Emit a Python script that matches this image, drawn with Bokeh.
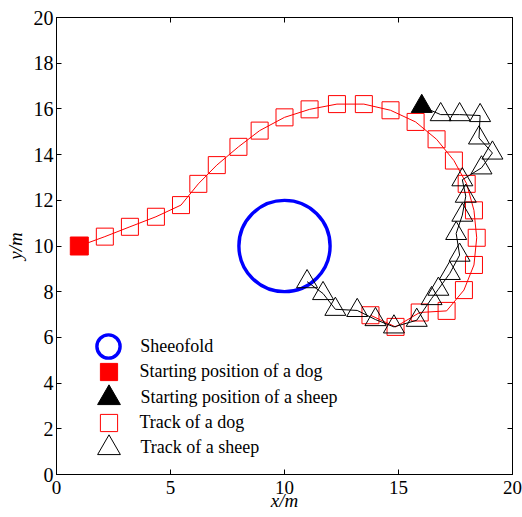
from bokeh.plotting import figure
from bokeh.models import Range1d, LinearAxis, Legend, LegendItem, FixedTicker
from bokeh.embed import file_html
from bokeh.resources import INLINE

# ---------------- data ----------------
dog_start_x = [1.0]
dog_start_y = [10.0]
dog_x = [2.12, 3.22, 4.36, 5.46, 6.22, 7.03, 7.98, 8.91, 10.0, 11.1, 12.3, 13.48, 14.65,
         15.75, 16.67, 17.43, 17.99, 18.31, 18.43, 18.31, 17.87, 17.11, 15.93, 14.87, 13.77]
dog_y = [10.41, 10.84, 11.28, 11.79, 12.72, 13.54, 14.34, 15.05, 15.63, 15.98, 16.21, 16.21, 15.94,
         15.43, 14.67, 13.74, 12.72, 11.56, 10.36, 9.17, 8.07, 7.16, 7.09, 6.46, 6.97]

sheep_start_x = [16.02]
sheep_start_y = [16.11]
sheep_x = [16.85, 17.68, 18.58, 18.53, 19.12, 18.64, 17.80, 17.95, 17.80, 17.53, 17.68, 17.25,
           16.75, 16.45, 15.80, 14.80, 13.99, 13.19, 12.23, 11.69, 10.99]
sheep_y = [15.75, 15.75, 15.71, 14.73, 14.07, 13.42, 12.90, 12.18, 11.35, 10.55, 9.60, 8.80,
           8.11, 7.70, 6.75, 6.46, 6.78, 7.18, 7.23, 7.92, 8.44]

fold_x = [10.0]
fold_y = [10.0]
fold_radius = [2.0]

x_ticks = [0, 5, 10, 15, 20]
y_ticks = [0, 2, 4, 6, 8, 10, 12, 14, 16, 18, 20]

legend_labels = ["Sheeofold", "Starting position of a dog", "Starting position of a sheep",
                 "Track of a dog", "Track of a sheep"]

FONT = "Liberation Serif"

# ---------------- figure ----------------
p = figure(width=522, height=517, x_range=Range1d(0, 20), y_range=Range1d(0, 20),
           output_backend="svg", toolbar_location=None,
           min_border_left=56, min_border_right=10, min_border_top=17, min_border_bottom=43)
p.grid.visible = False
p.outline_line_color = "black"
p.outline_line_width = 1
p.outline_line_alpha = 1
p.background_fill_color = "white"
p.border_fill_color = "white"

for ax in (p.xaxis[0], p.yaxis[0]):
    ax.major_tick_in = 5
    ax.major_tick_out = 0
    ax.minor_tick_line_color = None
    ax.axis_line_color = "black"
    ax.major_tick_line_color = "black"
    ax.major_label_text_font = FONT
    ax.major_label_text_color = "black"
    ax.axis_label_text_font = FONT
    ax.axis_label_text_font_size = "19px"
    ax.axis_label_text_font_style = "italic"
    ax.axis_label_text_color = "black"

p.xaxis[0].major_label_text_font_size = "19px"
p.yaxis[0].major_label_text_font_size = "20px"
p.xaxis[0].ticker = FixedTicker(ticks=x_ticks)
p.yaxis[0].ticker = FixedTicker(ticks=y_ticks)
p.xaxis[0].axis_label = "x/m"
p.yaxis[0].axis_label = "y/m"
p.xaxis[0].major_label_standoff = 6
p.xaxis[0].axis_label_standoff = -7
p.yaxis[0].major_label_standoff = 3
p.yaxis[0].axis_label_standoff = 5

top_axis = LinearAxis(ticker=FixedTicker(ticks=x_ticks),
                      major_label_overrides={t: "" for t in x_ticks})
right_axis = LinearAxis(ticker=FixedTicker(ticks=y_ticks),
                        major_label_overrides={t: "" for t in y_ticks})
for ax in (top_axis, right_axis):
    ax.major_tick_in = 5
    ax.major_tick_out = 0
    ax.minor_tick_line_color = None
    ax.major_label_text_font_size = "0px"
    ax.major_label_standoff = 0
    ax.axis_line_color = "black"
p.add_layout(top_axis, "above")
p.add_layout(right_axis, "right")

# sheepfold
fold = p.circle(x=fold_x, y=fold_y, radius=fold_radius,
                fill_color=None, line_color="#0000ff", line_width=3.4)

# dog track
p.line(x=dog_start_x + dog_x, y=dog_start_y + dog_y, line_color="#ff0000", line_width=1)
dog_track = p.scatter(x=dog_x, y=dog_y, marker="square", size=17, fill_color=None,
                      line_color="#ff0000", line_width=1)
dog_start = p.scatter(x=dog_start_x, y=dog_start_y, marker="square", size=18,
                      fill_color="#ff0000", line_color="#ff0000", line_width=1)

# sheep track
p.line(x=sheep_start_x + sheep_x, y=sheep_start_y + sheep_y, line_color="black", line_width=1)
sheep_track = p.scatter(x=sheep_x, y=sheep_y, marker="triangle", size=21, fill_color=None,
                        line_color="black", line_width=1)
sheep_start = p.scatter(x=sheep_start_x, y=sheep_start_y, marker="triangle", size=21,
                        fill_color="black", line_color="black", line_width=1)

# legend: one single-row legend per entry, stacked at a tight row pitch
legend_renderers = [fold, dog_start, sheep_start, dog_track, sheep_track]
glyph_boxes = [58, 43, 57, 43, 57]
box_left = [23.3, 30.5, 23.5, 30.5, 23.5]
box_bottom = [99, 81, 48, 30, -2]
standoffs = [3, 10, 4, 10, 4]
for label, rend, gw, bx, by, so in zip(legend_labels, legend_renderers, glyph_boxes,
                                       box_left, box_bottom, standoffs):
    lg = Legend(items=[LegendItem(label=label, renderers=[rend])], location=(bx, by))
    lg.glyph_width = gw
    lg.glyph_height = gw
    lg.spacing = 0
    lg.padding = 0
    lg.margin = 0
    lg.label_standoff = so
    lg.label_text_font = FONT
    lg.label_text_font_size = "18px"
    lg.label_text_color = "black"
    lg.border_line_color = None
    lg.background_fill_alpha = 0
    p.add_layout(lg, "center")

open("out.html", "w").write(file_html(p, INLINE))
